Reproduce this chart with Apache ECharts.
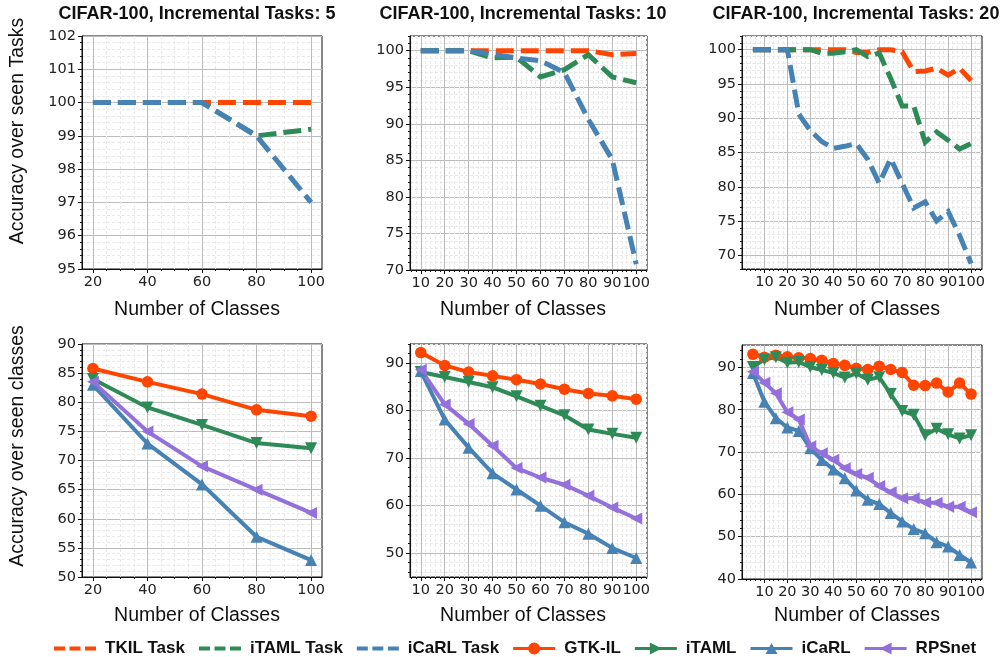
<!DOCTYPE html>
<html><head><meta charset="utf-8">
<script src="https://cdn.jsdelivr.net/npm/echarts@6/dist/echarts.min.js"></script>
<style>html,body{margin:0;padding:0;background:#fff}#c{width:1008px;height:657px}</style>
</head><body><div id="c"></div>
<script>
// ---------------- data ----------------
const classes5  = [20, 40, 60, 80, 100];
const classes10 = [10, 20, 30, 40, 50, 60, 70, 80, 90, 100];
const classes20 = [5, 10, 15, 20, 25, 30, 35, 40, 45, 50, 55, 60, 65, 70, 75, 80, 85, 90, 95, 100];

// Accuracy over seen tasks
const tkilTask5  = [100, 100, 100, 100, 100];
const itamlTask5 = [100, 100, 100, 99.0, 99.2];
const icarlTask5 = [100, 100, 100, 99.0, 97.0];

const tkilTask10  = [100, 100, 100, 100, 100, 100, 100, 100, 99.45, 99.6];
const itamlTask10 = [100, 100, 100, 99.0, 99.1, 96.4, 97.4, 99.45, 96.4, 95.6];
const icarlTask10 = [100, 100, 100, 99.5, 99.0, 98.6, 97.0, 90.6, 85.1, 70.8];

const tkilTask20  = [100, 100, 100, 100, 100, 100, 100, 100, 100, 99.6, 99.6, 100, 100, 99.7, 96.8, 96.9, 97.3, 96.3, 97.3, 95.5];
const itamlTask20 = [100, 100, 100, 100, 100, 100, 99.5, 99.5, 99.7, 100, 99.0, 99.5, 95.8, 91.8, 91.8, 86.5, 88.0, 86.8, 85.5, 86.3];
const icarlTask20 = [100, 100, 100, 100, 90.6, 88.2, 86.6, 85.6, 85.9, 86.3, 84.0, 80.5, 84.1, 80.5, 76.9, 77.8, 75.0, 76.4, 72.9, 68.8];

// Accuracy over seen classes
const gtk5   = [85.8, 83.5, 81.4, 78.7, 77.6];
const itaml5 = [84.0, 79.1, 76.1, 73.0, 72.1];
const icarl5 = [83.0, 72.9, 65.9, 56.9, 52.9];
const rps5   = [83.5, 75.0, 69.0, 65.0, 61.0];

const gtk10   = [92.2, 89.5, 88.1, 87.3, 86.5, 85.6, 84.5, 83.6, 83.1, 82.4];
const itaml10 = [88.1, 87.05, 86.0, 84.9, 83.0, 81.0, 79.0, 76.0, 75.1, 74.3];
const icarl10 = [88.3, 78.1, 72.2, 66.8, 63.4, 60.0, 56.5, 54.1, 51.1, 49.0];
const rps10   = [88.6, 81.3, 77.2, 72.6, 67.9, 65.9, 64.4, 62.1, 59.6, 57.3];

const gtk20   = [93.1, 92.4, 92.9, 92.5, 92.3, 92.1, 91.7, 90.9, 90.5, 89.8, 89.5, 90.3, 89.5, 88.8, 85.8, 85.7, 86.3, 84.2, 86.3, 83.7];
const itaml20 = [90.1, 91.9, 92.4, 91.1, 91.3, 90.1, 89.4, 88.7, 87.6, 88.6, 87.1, 87.7, 83.7, 79.7, 78.8, 74.0, 75.5, 74.2, 73.2, 74.0];
const icarl20 = [88.7, 81.9, 78.0, 75.8, 75.0, 70.9, 68.1, 65.9, 63.8, 60.9, 58.7, 57.7, 55.6, 53.6, 51.8, 50.8, 48.7, 47.7, 45.7, 43.9];
const rps20   = [89.0, 86.4, 83.9, 79.4, 77.7, 71.4, 69.7, 68.2, 66.2, 64.8, 63.9, 62.0, 60.5, 59.1, 59.1, 58.1, 58.0, 57.1, 57.1, 55.8];

// tick labels
const xTicks5   = [20, 40, 60, 80, 100];
const xTicks10  = [10, 20, 30, 40, 50, 60, 70, 80, 90, 100];
const yTicksTask5  = [95, 96, 97, 98, 99, 100, 101, 102];
const yTicksTask10 = [70, 75, 80, 85, 90, 95, 100];
const yTicksTask20 = [70, 75, 80, 85, 90, 95, 100];
const yTicksAcc5   = [50, 55, 60, 65, 70, 75, 80, 85, 90];
const yTicksAcc10  = [50, 60, 70, 80, 90];
const yTicksAcc20  = [40, 50, 60, 70, 80, 90];

const titles = ['CIFAR-100, Incremental Tasks: 5', 'CIFAR-100, Incremental Tasks: 10', 'CIFAR-100, Incremental Tasks: 20'];
const xTitle = 'Number of Classes';
const yTitleTop = 'Accuracy over seen Tasks';
const yTitleBottom = 'Accuracy over seen classes';
const legendNames = ['TKIL Task', 'iTAML Task', 'iCaRL Task', 'GTK-IL', 'iTAML', 'iCaRL', 'RPSnet'];

// ---------------- styles ----------------
const ORANGE = '#FF4500', GREEN = '#2E8B57', BLUE = '#4682B4', PURPLE = '#9370DB';
const styles = {
  'TKIL Task':  {color: ORANGE, dashed: true},
  'iTAML Task': {color: GREEN, dashed: true},
  'iCaRL Task': {color: BLUE, dashed: true},
  'GTK-IL': {color: ORANGE, symbol: 'circle', size: 11.5, rot: 0},
  'iTAML':  {color: GREEN, symbol: 'triangle', size: 12, rot: 180},
  'iCaRL':  {color: BLUE, symbol: 'triangle', size: 12, rot: 0},
  'RPSnet': {color: PURPLE, symbol: 'triangle', size: 12, rot: 90}
};

const panels = [
  {grid: {left: 82, top: 36, width: 240, height: 233}, x: [16, 104], xT: xTicks5, xm: 5, y: [95, 102], yT: yTicksTask5, ym: 0.2,
   xs: classes5, lines: [['TKIL Task', tkilTask5], ['iTAML Task', itamlTask5], ['iCaRL Task', icarlTask5]]},
  {grid: {left: 410, top: 36, width: 237, height: 234}, x: [5.5, 104.5], xT: xTicks10, xm: 2, y: [70, 102], yT: yTicksTask10, ym: 1,
   xs: classes10, lines: [['TKIL Task', tkilTask10], ['iTAML Task', itamlTask10], ['iCaRL Task', icarlTask10]]},
  {grid: {left: 742, top: 36, width: 240, height: 233}, x: [0.25, 104.75], xT: xTicks10, xm: 2, y: [68, 102], yT: yTicksTask20, ym: 1,
   xs: classes20, lines: [['TKIL Task', tkilTask20], ['iTAML Task', itamlTask20], ['iCaRL Task', icarlTask20]]},
  {grid: {left: 82, top: 344, width: 240, height: 233}, x: [16, 104], xT: xTicks5, xm: 5, y: [50, 90], yT: yTicksAcc5, ym: 1,
   xs: classes5, lines: [['GTK-IL', gtk5], ['iTAML', itaml5], ['iCaRL', icarl5], ['RPSnet', rps5]]},
  {grid: {left: 410, top: 344, width: 237, height: 233}, x: [5.5, 104.5], xT: xTicks10, xm: 2, y: [45, 94], yT: yTicksAcc10, ym: 2,
   xs: classes10, lines: [['GTK-IL', gtk10], ['iTAML', itaml10], ['iCaRL', icarl10], ['RPSnet', rps10]]},
  {grid: {left: 742, top: 345, width: 240, height: 234}, x: [0.25, 104.75], xT: xTicks10, xm: 2, y: [40, 95.3], yT: yTicksAcc20, ym: 2,
   xs: classes20, lines: [['GTK-IL', gtk20], ['iTAML', itaml20], ['iCaRL', icarl20], ['RPSnet', rps20]]}
];

function minorTicks(range, step, majors) {
  const out = [];
  const k0 = Math.ceil(range[0] / step - 1e-9), k1 = Math.floor(range[1] / step + 1e-9);
  for (let k = k0; k <= k1; k++) {
    const v = Math.round(k * step * 1000) / 1000;
    if (!majors.some(m => Math.abs(m - v) < 1e-6)) out.push(v);
  }
  return out;
}

const TICK_FONT = 'DejaVu Sans';
const grids = [], xAxes = [], yAxes = [], series = [];
panels.forEach((p, i) => {
  grids.push(Object.assign({show: true, borderColor: '#111', borderWidth: 1, backgroundColor: 'transparent',
    containLabel: false, outerBoundsMode: 'none'}, p.grid));
  const majorCommon = (range, ticks, pos) => ({
    type: 'value', gridIndex: i, min: range[0], max: range[1], position: pos,
    axisLine: {show: true, onZero: false, lineStyle: {color: '#111', width: 1}},
    axisTick: {show: true, customValues: ticks, length: 4, inside: false, lineStyle: {color: '#111', width: 1}},
    axisLabel: {show: true, customValues: ticks, margin: 6, color: '#222', fontSize: 14.5, fontFamily: TICK_FONT,
      formatter: v => String(v), showMinLabel: true, showMaxLabel: true},
    splitLine: {show: true, lineStyle: {color: '#bcbcbc', width: 1}},
    minorTick: {show: false}, minorSplitLine: {show: false}
  });
  const minorCommon = (range, ticks, pos) => ({
    type: 'value', gridIndex: i, min: range[0], max: range[1], position: pos,
    axisLine: {show: false},
    axisTick: {show: true, customValues: ticks, length: 2, inside: false, lineStyle: {color: '#111', width: 1}},
    axisLabel: {show: false},
    splitLine: {show: true, lineStyle: {color: '#e9e9e9', width: 1, type: [3, 2]}}
  });
  xAxes.push(minorCommon(p.x, minorTicks(p.x, p.xm, p.xT), 'bottom'));
  xAxes.push(majorCommon(p.x, p.xT, 'bottom'));
  yAxes.push(minorCommon(p.y, minorTicks(p.y, p.ym, p.yT), 'left'));
  yAxes.push(majorCommon(p.y, p.yT, 'left'));
  p.lines.forEach(([name, ys]) => {
    const st = styles[name];
    const s = {
      type: 'line', name, xAxisIndex: 2 * i + 1, yAxisIndex: 2 * i + 1,
      data: p.xs.map((x, k) => [x, ys[k]]),
      animation: false, silent: true, clip: true,
      emphasis: {disabled: true},
      itemStyle: {color: st.color, borderWidth: 0},
      lineStyle: {color: st.color, width: st.dashed ? 5 : 4, type: st.dashed ? [18, 7] : 'solid', cap: 'butt', join: 'miter'}
    };
    if (st.dashed) { s.symbol = 'none'; s.showSymbol = false; }
    else { s.symbol = st.symbol; s.symbolSize = st.size; s.symbolRotate = st.rot; s.showSymbol = true; }
    series.push(s);
  });
});

// legend icons (line + marker) as filled paths
const dashIcon = 'path://M0,0h11v4h-11z M15.5,0h11v4h-11z M31,0h11v4h-11z';
const legendIcons = {
  'TKIL Task': dashIcon, 'iTAML Task': dashIcon, 'iCaRL Task': dashIcon,
  'GTK-IL': 'path://M0,5.5h42v3h-42z M15,7a6,6 0 1,1 12,0a6,6 0 1,1 -12,0z',
  'iTAML':  'path://M0,5.5h42v3h-42z M15,1L27,7L15,13z',
  'iCaRL':  'path://M0,5.5h42v3h-42z M15,12.5L21,1.5L27,12.5z',
  'RPSnet': 'path://M0,5.5h42v3h-42z M27,1L27,13L15,7z'
};

const TXT = '"Liberation Sans", Arial, sans-serif';
const graphics = [];
const titleX = [197, 523, 856];
titles.forEach((t, i) => graphics.push({type: 'text', x: titleX[i], y: 14, silent: true,
  style: {text: t, font: 'bold 18px ' + TXT, fill: '#111', textAlign: 'center', textVerticalAlign: 'middle', align: 'center', verticalAlign: 'middle'}}));
const xTitleX = [197, 523, 857];
[310, 616].forEach(yy => xTitleX.forEach(xx => graphics.push({type: 'text', x: xx, y: yy, silent: true,
  style: {text: xTitle, font: '19.5px ' + TXT, fill: '#111', textAlign: 'center', textVerticalAlign: 'middle', align: 'center', verticalAlign: 'middle'}})));
graphics.push({type: 'text', x: 18, y: 131, rotation: Math.PI / 2, silent: true,
  style: {text: yTitleTop, font: '19.5px ' + TXT, fill: '#111', textAlign: 'center', textVerticalAlign: 'middle', align: 'center', verticalAlign: 'middle'}});
graphics.push({type: 'text', x: 18, y: 446, rotation: Math.PI / 2, silent: true,
  style: {text: yTitleBottom, font: '19.5px ' + TXT, fill: '#111', textAlign: 'center', textVerticalAlign: 'middle', align: 'center', verticalAlign: 'middle'}});

const chart = echarts.init(document.getElementById('c'), null, {renderer: 'canvas', width: 1008, height: 657});
chart.setOption({
  animation: false,
  backgroundColor: '#fff',
  grid: grids,
  xAxis: xAxes,
  yAxis: yAxes,
  series: series,
  legend: {
    show: true, left: 54, top: 640, padding: 0, itemGap: 14, itemWidth: 42, itemHeight: 14,
    selectedMode: false, symbolKeepAspect: true,
    itemStyle: {borderWidth: 0},
    textStyle: {fontFamily: TXT, fontWeight: 'bold', fontSize: 17, color: '#111', padding: [0, 0, 0, 4]},
    data: legendNames.map(n => ({name: n, icon: legendIcons[n]}))
  },
  graphic: graphics
});
</script>
</body></html>
